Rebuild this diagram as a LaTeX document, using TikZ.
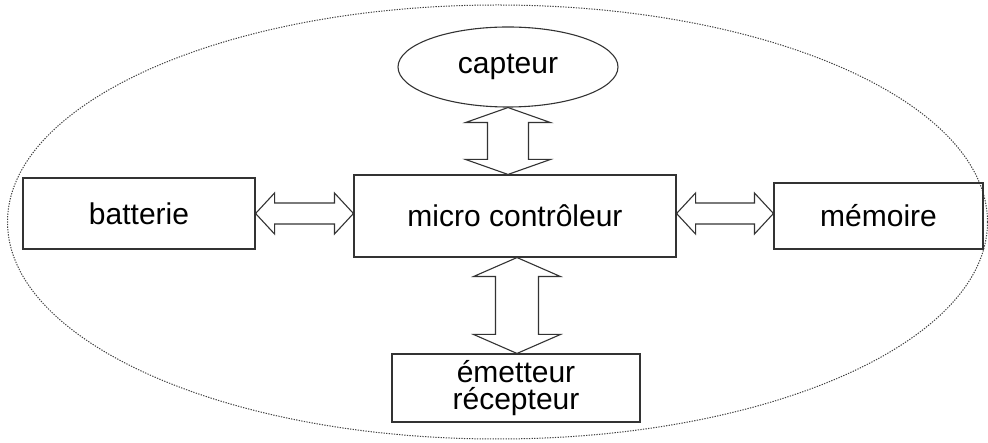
\documentclass[tikz,border=0pt]{standalone}
\usepackage{fontspec}
\setmainfont{Liberation Sans}
\usetikzlibrary{calc,shapes.geometric}

% parameters of the hollow two-headed arrows
\tikzset{
  fat head/.code={\def\fatH{#1}},
  fat shaft/.code={\def\fatS{#1}},
  fat len/.code={\def\fatL{#1}},
  fat head=20.5, fat shaft=10.5, fat len=19,
  fatarrow/.style={draw=black!80, line width=1.1pt, fill=white, line join=miter},
  % horizontal two-headed arrow from start (left) to target (right)
  hfat/.style={fatarrow, to path={
      -- ($(\tikztostart)+(\fatL,\fatH)$) -- ($(\tikztostart)+(\fatL,\fatS)$)
      -- ($(\tikztotarget)+(-\fatL,\fatS)$) -- ($(\tikztotarget)+(-\fatL,\fatH)$)
      -- (\tikztotarget)
      -- ($(\tikztotarget)+(-\fatL,-\fatH)$) -- ($(\tikztotarget)+(-\fatL,-\fatS)$)
      -- ($(\tikztostart)+(\fatL,-\fatS)$) -- ($(\tikztostart)+(\fatL,-\fatH)$)
      -- cycle}},
  % vertical two-headed arrow from start (top) to target (bottom)
  vfat/.style={fatarrow, to path={
      -- ($(\tikztostart)+(\fatH,\fatL)$) -- ($(\tikztostart)+(\fatS,\fatL)$)
      -- ($(\tikztotarget)+(\fatS,-\fatL)$) -- ($(\tikztotarget)+(\fatH,-\fatL)$)
      -- (\tikztotarget)
      -- ($(\tikztotarget)+(-\fatH,-\fatL)$) -- ($(\tikztotarget)+(-\fatS,-\fatL)$)
      -- ($(\tikztostart)+(-\fatS,\fatL)$) -- ($(\tikztostart)+(-\fatH,\fatL)$)
      -- cycle}},
  block/.style={draw=black!80, line width=1.1pt, rectangle, inner sep=0pt,
    font=\fontsize{30}{27.5}\selectfont, align=center, text=black},
  sensor/.style={block, ellipse},
  system/.style={draw=black!75, line width=1pt, dash pattern=on 1.3pt off 1.3pt}
}

\begin{document}
\begin{tikzpicture}[x=1pt, y=-1pt]
  \useasboundingbox (0,0) rectangle (988,443);

  % dotted outline of the whole system
  \draw[system] (497.5,222) ellipse [x radius=490pt, y radius=217pt];

  % blocks
  \node[block, minimum width=232pt, minimum height=71pt] (bat) at (139,213.5) {batterie};
  \node[block, minimum width=322pt, minimum height=82pt] (mc)  at (515,216) {micro contrôleur};
  \node[block, minimum width=209pt, minimum height=66pt] (mem) at (878.5,216) {mémoire};
  \node[block, minimum width=248pt, minimum height=68pt] (em)  at (516,388) {émetteur\\récepteur};
  \node[sensor, minimum width=220pt, minimum height=80pt] (cap) at (508,67) {capteur};

  % arrow end points
  \coordinate (batR) at (bat.east);
  \coordinate (mcL)  at (mc.west |- bat.east);
  \coordinate (mcR)  at (mc.east |- bat.east);
  \coordinate (memL) at (mem.west |- bat.east);
  \coordinate (capB) at (cap.south);
  \coordinate (mcT)  at (cap.south |- mc.north);
  \coordinate (mcB)  at ($(mc.south)+(2,0)$);
  \coordinate (emT)  at (mcB |- em.north);

  % two-headed links
  \draw[hfat] (batR) to (mcL);
  \draw[hfat] (mcR) to (memL);
  \draw[vfat, fat head=42.5, fat shaft=20.5, fat len=15] (capB) to (mcT);
  \draw[vfat, fat head=43.5, fat shaft=21.5, fat len=19] (mcB) to (emT);
\end{tikzpicture}
\end{document}
